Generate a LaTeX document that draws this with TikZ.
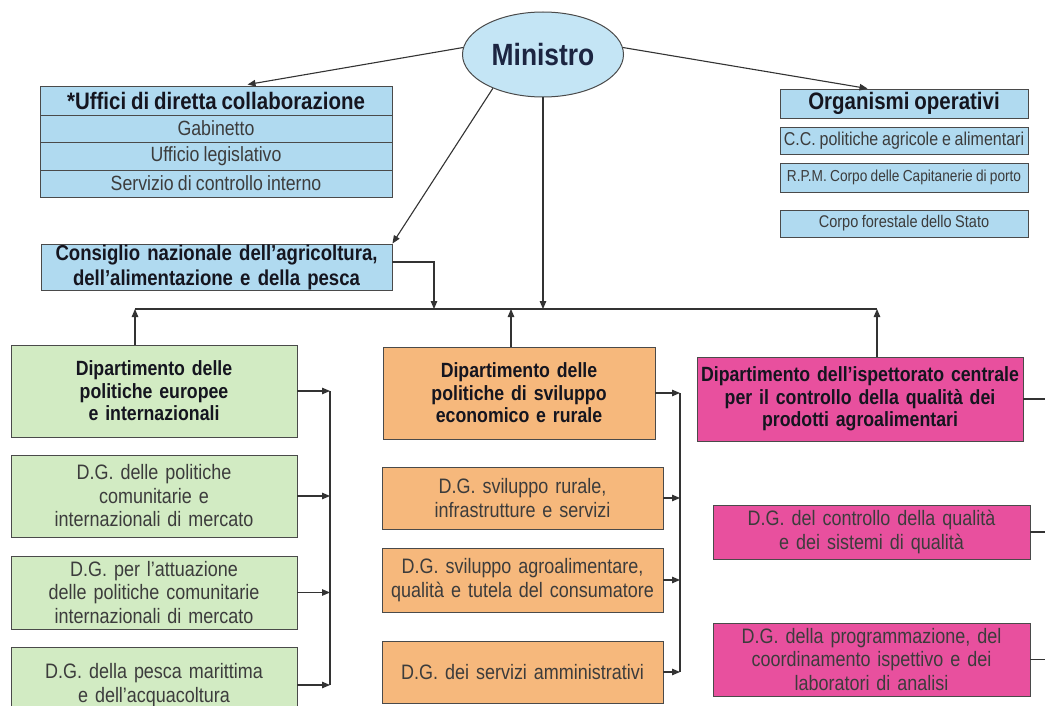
\documentclass[tikz,border=0pt]{standalone}
\usepackage{fontspec}
\setmainfont[FakeStretch=0.86,WordSpace=0.86]{Liberation Sans}
\usetikzlibrary{shapes.geometric,arrows.meta,calc}
\definecolor{bluefill}{HTML}{B0DAF0}
\definecolor{ellfill}{HTML}{C4E5F5}
\definecolor{greenfill}{HTML}{D2EBC3}
\definecolor{orangefill}{HTML}{F6B87C}
\definecolor{pinkfill}{HTML}{E8509E}
\definecolor{linecol}{HTML}{333333}
\definecolor{boxline}{HTML}{4A4A4A}
\definecolor{darktext}{HTML}{15151F}
\definecolor{graytext}{HTML}{3C3C3C}
\definecolor{navytext}{HTML}{1C2541}
\tikzset{
  box/.style={draw=boxline, line width=0.9pt, inner sep=0pt, align=center, anchor=center},
  bluebox/.style={box, fill=bluefill},
  greenbox/.style={box, fill=greenfill},
  orangebox/.style={box, fill=orangefill},
  pinkbox/.style={box, fill=pinkfill},
  headtxt/.style={font=\fontsize{23.8}{26}\selectfont\bfseries, text=darktext},
  rowtxt/.style={font=\fontsize{20.6}{23}\selectfont, text=graytext},
  depttxt/.style={font=\fontsize{20.6}{22.5}\selectfont\bfseries, text=darktext},
  dgtxt/.style={font=\fontsize{20.9}{23.5}\selectfont, text=graytext},
  conn/.style={draw=linecol, line width=1.1pt},
  arr/.style={conn, -{Triangle[length=8pt,width=6.5pt]}},
}
\begin{document}
\begin{tikzpicture}[x=1pt,y=-1pt]
\useasboundingbox (0,0) rectangle (1045,706);
\clip (0,0) rectangle (1045,706);
\fill[white] (0,0) rectangle (1045,706);

% Ministro
\node[ellipse, draw=boxline, line width=1pt, fill=ellfill, minimum width=161pt, minimum height=85pt, inner sep=0pt,
      font=\fontsize{30.7}{32}\selectfont\bfseries, text=navytext] (min) at (543,54.5) {Ministro};

% Uffici di diretta collaborazione
\node[bluebox, minimum width=352pt, minimum height=29pt, headtxt] (uff) at (216,100.5) {*Uffici di diretta collaborazione};
\node[bluebox, minimum width=352pt, minimum height=27pt, rowtxt] (gab) at (216,128.5) {Gabinetto};
\node[bluebox, minimum width=352pt, minimum height=28pt, rowtxt] (leg) at (216,156) {Ufficio legislativo};
\node[bluebox, minimum width=352pt, minimum height=27pt, rowtxt] (serv) at (216,183.5) {Servizio di controllo interno};

% Organismi operativi
\node[bluebox, minimum width=248pt, minimum height=29pt, headtxt] (org) at (904,103.5) {Organismi operativi};
\node[bluebox, minimum width=248pt, minimum height=27pt, font=\fontsize{18.6}{20}\selectfont, text=graytext] (cc) at (904,140.5) {C.C. politiche agricole e alimentari};
\node[bluebox, minimum width=248pt, minimum height=29pt, font=\fontsize{15.9}{17}\selectfont, text=graytext] (rpm) at (904,177.5) {R.P.M. Corpo delle Capitanerie di porto};
\node[bluebox, minimum width=248pt, minimum height=27pt, font=\fontsize{16.9}{18}\selectfont, text=graytext] (cfs) at (904,223.5) {Corpo forestale dello Stato};

% Consiglio
\node[bluebox, minimum width=351pt, minimum height=46pt, text width=351pt,
      font=\fontsize{21.6}{25}\selectfont\bfseries, text=darktext] (cons) at (216.5,267)
  {Consiglio nazionale dell’agricoltura,\\dell’alimentazione e della pesca};

% Green column
\node[greenbox, minimum width=286pt, minimum height=92pt, text width=286pt, depttxt] (gdep) at (154,391)
  {Dipartimento delle\\politiche europee\\e internazionali};
\node[greenbox, minimum width=286pt, minimum height=82pt, text width=286pt, dgtxt] (gdga) at (154,496)
  {D.G. delle politiche\\comunitarie e\\internazionali di mercato};
\node[greenbox, minimum width=286pt, minimum height=73pt, text width=286pt, dgtxt] (gdgb) at (154,592.5)
  {D.G. per l’attuazione\\delle politiche comunitarie\\internazionali di mercato};
\node[greenbox, minimum width=286pt, minimum height=76pt, text width=286pt, dgtxt] (gdgc) at (154,685)
  {D.G. della pesca marittima\\e dell’acquacoltura\\[4pt]};

% Orange column
\node[orangebox, minimum width=272pt, minimum height=92pt, text width=272pt, depttxt] (odep) at (519,393)
  {Dipartimento delle\\politiche di sviluppo\\economico e rurale};
\node[orangebox, minimum width=281pt, minimum height=62pt, text width=281pt, dgtxt] (odga) at (522.5,498)
  {D.G. sviluppo rurale,\\infrastrutture e servizi};
\node[orangebox, minimum width=281pt, minimum height=64pt, text width=281pt, dgtxt] (odgb) at (522.5,580)
  {D.G. sviluppo agroalimentare,\\qualità e tutela del consumatore};
\node[orangebox, minimum width=281pt, minimum height=62pt, text width=281pt, dgtxt] (odgc) at (522.5,672)
  {D.G. dei servizi amministrativi};

% Pink column
\node[pinkbox, minimum width=326pt, minimum height=84pt, text width=326pt, depttxt] (pdep) at (860,399)
  {Dipartimento dell’ispettorato centrale\\per il controllo della qualità dei\\prodotti agroalimentari};
\node[pinkbox, minimum width=317pt, minimum height=54pt, text width=317pt, dgtxt] (pdga) at (871.5,532)
  {D.G. del controllo della qualità\\e dei sistemi di qualità};
\node[pinkbox, minimum width=317pt, minimum height=73pt, text width=317pt, dgtxt] (pdgb) at (871.5,659.5)
  {D.G. della programmazione, del\\coordinamento ispettivo e dei\\laboratori di analisi};

% helper coordinates
\coordinate (uffT) at ($(uff.north west)+(208,-1)$);
\coordinate (orgT) at ($(org.north west)+(88,0)$);
\coordinate (busL) at (135,309);
\coordinate (busR) at (877,309);
\coordinate (busC) at (434,309);
\coordinate (busO) at (511,309);
\coordinate (gvx) at (330,0);
\coordinate (ovx) at (680,0);
\coordinate (pvx) at (1070,0);

% connectors from Ministro
\draw[arr] (min.175) -- (uffT);
\draw[arr] (min.5) -- (orgT);
\draw[arr] (min.214) -- (cons.north east);
\draw[arr] (min.south) -- (min.south |- busL);

% bus
\draw[conn] (busL) -- (busR);
\draw[arr] ($(cons.east)+(0,-5)$) -| (busC);
\draw[arr] (gdep.north -| busL) -- (busL);
\draw[arr] (odep.north -| busO) -- (busO);
\draw[arr] (pdep.north -| busR) -- (busR);

% green column links
\draw[conn] (gdep.east -| gvx) -- (gdgc.east -| gvx);
\draw[arr] (gdep.east) -- (gdep.east -| gvx);
\draw[arr] (gdga.east) -- (gdga.east -| gvx);
\draw[arr] (gdgb.east) -- (gdgb.east -| gvx);
\draw[arr] (gdgc.east) -- (gdgc.east -| gvx);

% orange column links
\draw[conn] (odep.east -| ovx) -- (odgc.east -| ovx);
\draw[arr] (odep.east) -- (odep.east -| ovx);
\draw[arr] (odga.east) -- (odga.east -| ovx);
\draw[arr] (odgb.east) -- (odgb.east -| ovx);
\draw[arr] (odgc.east) -- (odgc.east -| ovx);

% pink column links
\draw[conn] (pdep.east) -- (pdep.east -| pvx);
\draw[conn] (pdga.east) -- (pdga.east -| pvx);
\draw[conn] (pdgb.east) -- (pdgb.east -| pvx);
\end{tikzpicture}
\end{document}
